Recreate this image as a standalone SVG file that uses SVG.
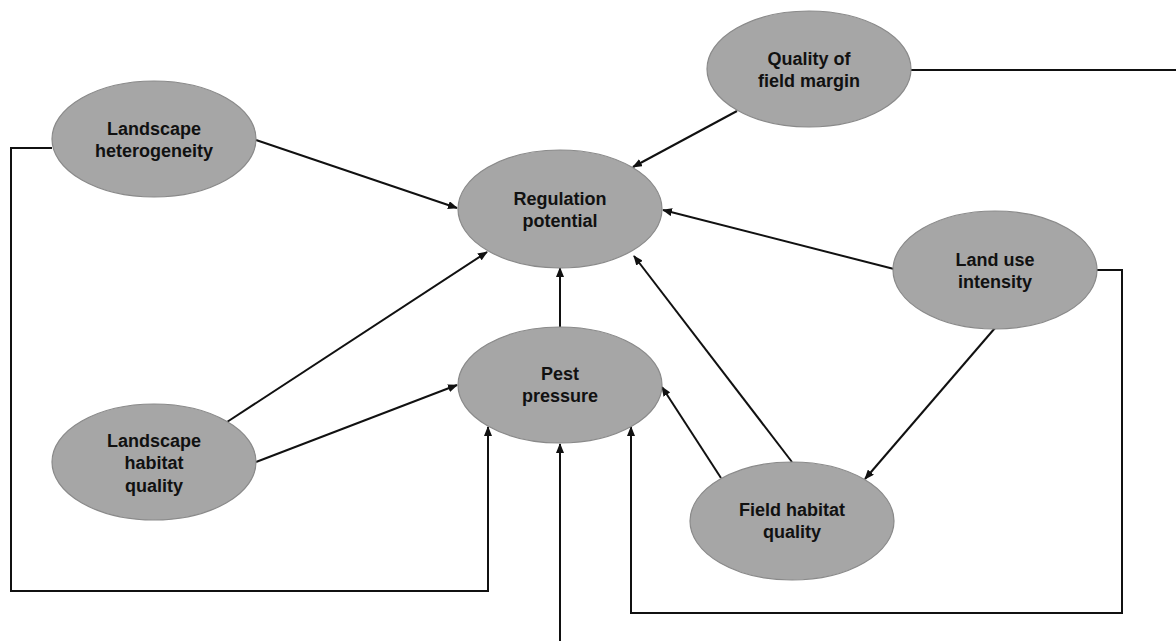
<svg xmlns="http://www.w3.org/2000/svg" width="1176" height="641" viewBox="0 0 1176 641">
<style>
.node ellipse{fill:#a6a6a6;stroke:#8a8a8a;stroke-width:1.2}
.node text{font-family:"Liberation Sans",Arial,sans-serif;font-weight:bold;font-size:18px;fill:#111;text-anchor:middle}
.edge{fill:none;stroke:#111;stroke-width:2}
</style>
<defs>
<marker id="arr" markerUnits="userSpaceOnUse" markerWidth="10" markerHeight="8" refX="9" refY="4" orient="auto">
<path d="M0,0 L10,4 L0,8 z" fill="#111"/>
</marker>
</defs>
<rect width="1176" height="641" fill="#fff"/>
<g id="connectors">
<line class="edge" x1="256" y1="140" x2="457" y2="208" marker-end="url(#arr)"/>
<line class="edge" x1="737" y1="111" x2="633" y2="167" marker-end="url(#arr)"/>
<line class="edge" x1="894" y1="269" x2="663" y2="210" marker-end="url(#arr)"/>
<line class="edge" x1="227" y1="422" x2="487" y2="252" marker-end="url(#arr)"/>
<line class="edge" x1="792" y1="462" x2="634" y2="256" marker-end="url(#arr)"/>
<line class="edge" x1="560" y1="327" x2="560" y2="268" marker-end="url(#arr)"/>
<line class="edge" x1="256" y1="462" x2="457" y2="385" marker-end="url(#arr)"/>
<line class="edge" x1="721" y1="478" x2="662" y2="387" marker-end="url(#arr)"/>
<line class="edge" x1="995" y1="328" x2="865" y2="479" marker-end="url(#arr)"/>
<polyline class="edge" points="52,148 11,148 11,591 488,591 488,427" marker-end="url(#arr)"/>
<line class="edge" x1="560" y1="641" x2="560" y2="444" marker-end="url(#arr)"/>
<polyline class="edge" points="1097,270 1122,270 1122,613 631,613 631,427" marker-end="url(#arr)"/>
<line class="edge" x1="911" y1="70" x2="1176" y2="70"/>
</g>
<g id="landscape-heterogeneity" class="node">
<ellipse cx="154" cy="139" rx="102" ry="58"/>
<text x="154" y="135">Landscape</text>
<text x="154" y="157">heterogeneity</text>
</g>
<g id="regulation-potential" class="node">
<ellipse cx="560" cy="209" rx="102" ry="59"/>
<text x="560" y="205">Regulation</text>
<text x="560" y="227">potential</text>
</g>
<g id="quality-field-margin" class="node">
<ellipse cx="809" cy="69" rx="102" ry="58"/>
<text x="809" y="65">Quality of</text>
<text x="809" y="87">field margin</text>
</g>
<g id="land-use-intensity" class="node">
<ellipse cx="995" cy="270" rx="102" ry="59"/>
<text x="995" y="266">Land use</text>
<text x="995" y="288">intensity</text>
</g>
<g id="pest-pressure" class="node">
<ellipse cx="560" cy="385" rx="102" ry="58"/>
<text x="560" y="380">Pest</text>
<text x="560" y="402">pressure</text>
</g>
<g id="landscape-habitat-quality" class="node">
<ellipse cx="154" cy="462" rx="102" ry="58"/>
<text x="154" y="447">Landscape</text>
<text x="154" y="469">habitat</text>
<text x="154" y="492">quality</text>
</g>
<g id="field-habitat-quality" class="node">
<ellipse cx="792" cy="521" rx="102" ry="59"/>
<text x="792" y="516">Field habitat</text>
<text x="792" y="538">quality</text>
</g>
</svg>
